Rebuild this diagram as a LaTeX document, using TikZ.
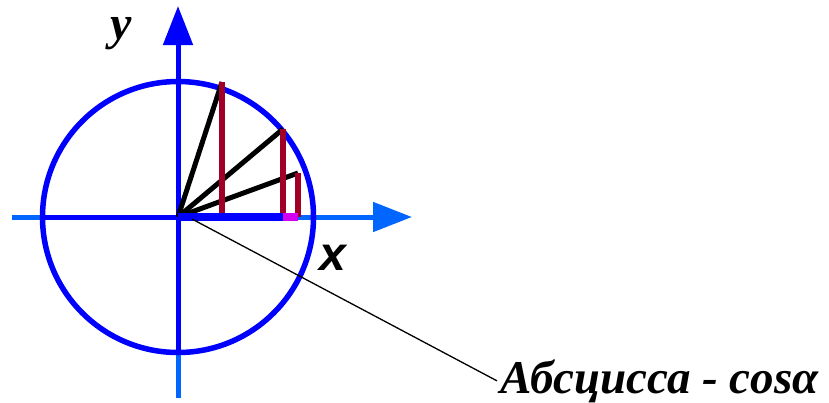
\documentclass[tikz,border=0pt]{standalone}
\usepackage{fontspec}
\setmainfont{Liberation Serif}
\newfontfamily\rotulosans{Liberation Sans}
\usetikzlibrary{arrows.meta}
\definecolor{ejeazul}{RGB}{0,0,255}
\definecolor{ejeclaro}{RGB}{0,102,255}
\definecolor{senorojo}{RGB}{160,0,40}
\definecolor{cosmagenta}{RGB}{210,0,240}

\begin{document}
\begin{tikzpicture}[x=1pt,y=-1pt,>={Triangle[length=39pt,width=29pt]},
    eje/.style={line width=5pt},
    radio/.style={line width=5pt,black},
    seno/.style={line width=6pt,senorojo}]
    \useasboundingbox (0,0) rectangle (829,402);
    \coordinate (O) at (178,217);

    % Ejes: tramos claros fuera del circulo, oscuros dentro.
    \draw[eje,ejeclaro,->] (12,217) -- (412,217);
    \draw[eje,ejeazul] (44,217) -- (O);
    \draw[eje,ejeclaro] (178,398) -- (178,350);
    \draw[eje,ejeazul,->] (178,352) -- (178,6);
    \draw[line width=5.5pt,ejeazul] (O) circle (135.5pt);

    % Radios y proyecciones verticales.
    \coordinate (P1) at (222,82);
    \coordinate (P2) at (283,129);
    \coordinate (P3) at (298,173);
    \draw[radio] (O) -- (P1);
    \draw[radio] (O) -- (P2);
    \draw[radio] (O) -- (P3);
    \foreach \p in {P1,P2,P3}
        \draw[seno] (\p) -- (\p |- O);

    % Abscisa sobre el eje x.
    \draw[line width=8pt,ejeazul] (O) -- (283,217);
    \draw[line width=8pt,cosmagenta] (283,217) -- (298,217);

    \node[font=\fontsize{48}{52}\selectfont\bfseries\itshape] (ey) at (121,34) {y};
    \node[font=\fontsize{48}{52}\selectfont\rotulosans\bfseries\itshape] (ex) at (333,258) {x};

    \node[anchor=base west,inner sep=0pt,
        font=\fontsize{47}{52}\selectfont\bfseries\itshape] (abscisa) at (500,393)
        {Абсцисса - cosα};
    \coordinate (inicio) at (192,219);
    \draw[line width=1.3pt] (inicio) -- ([xshift=-3pt]abscisa.west);
\end{tikzpicture}
\end{document}
